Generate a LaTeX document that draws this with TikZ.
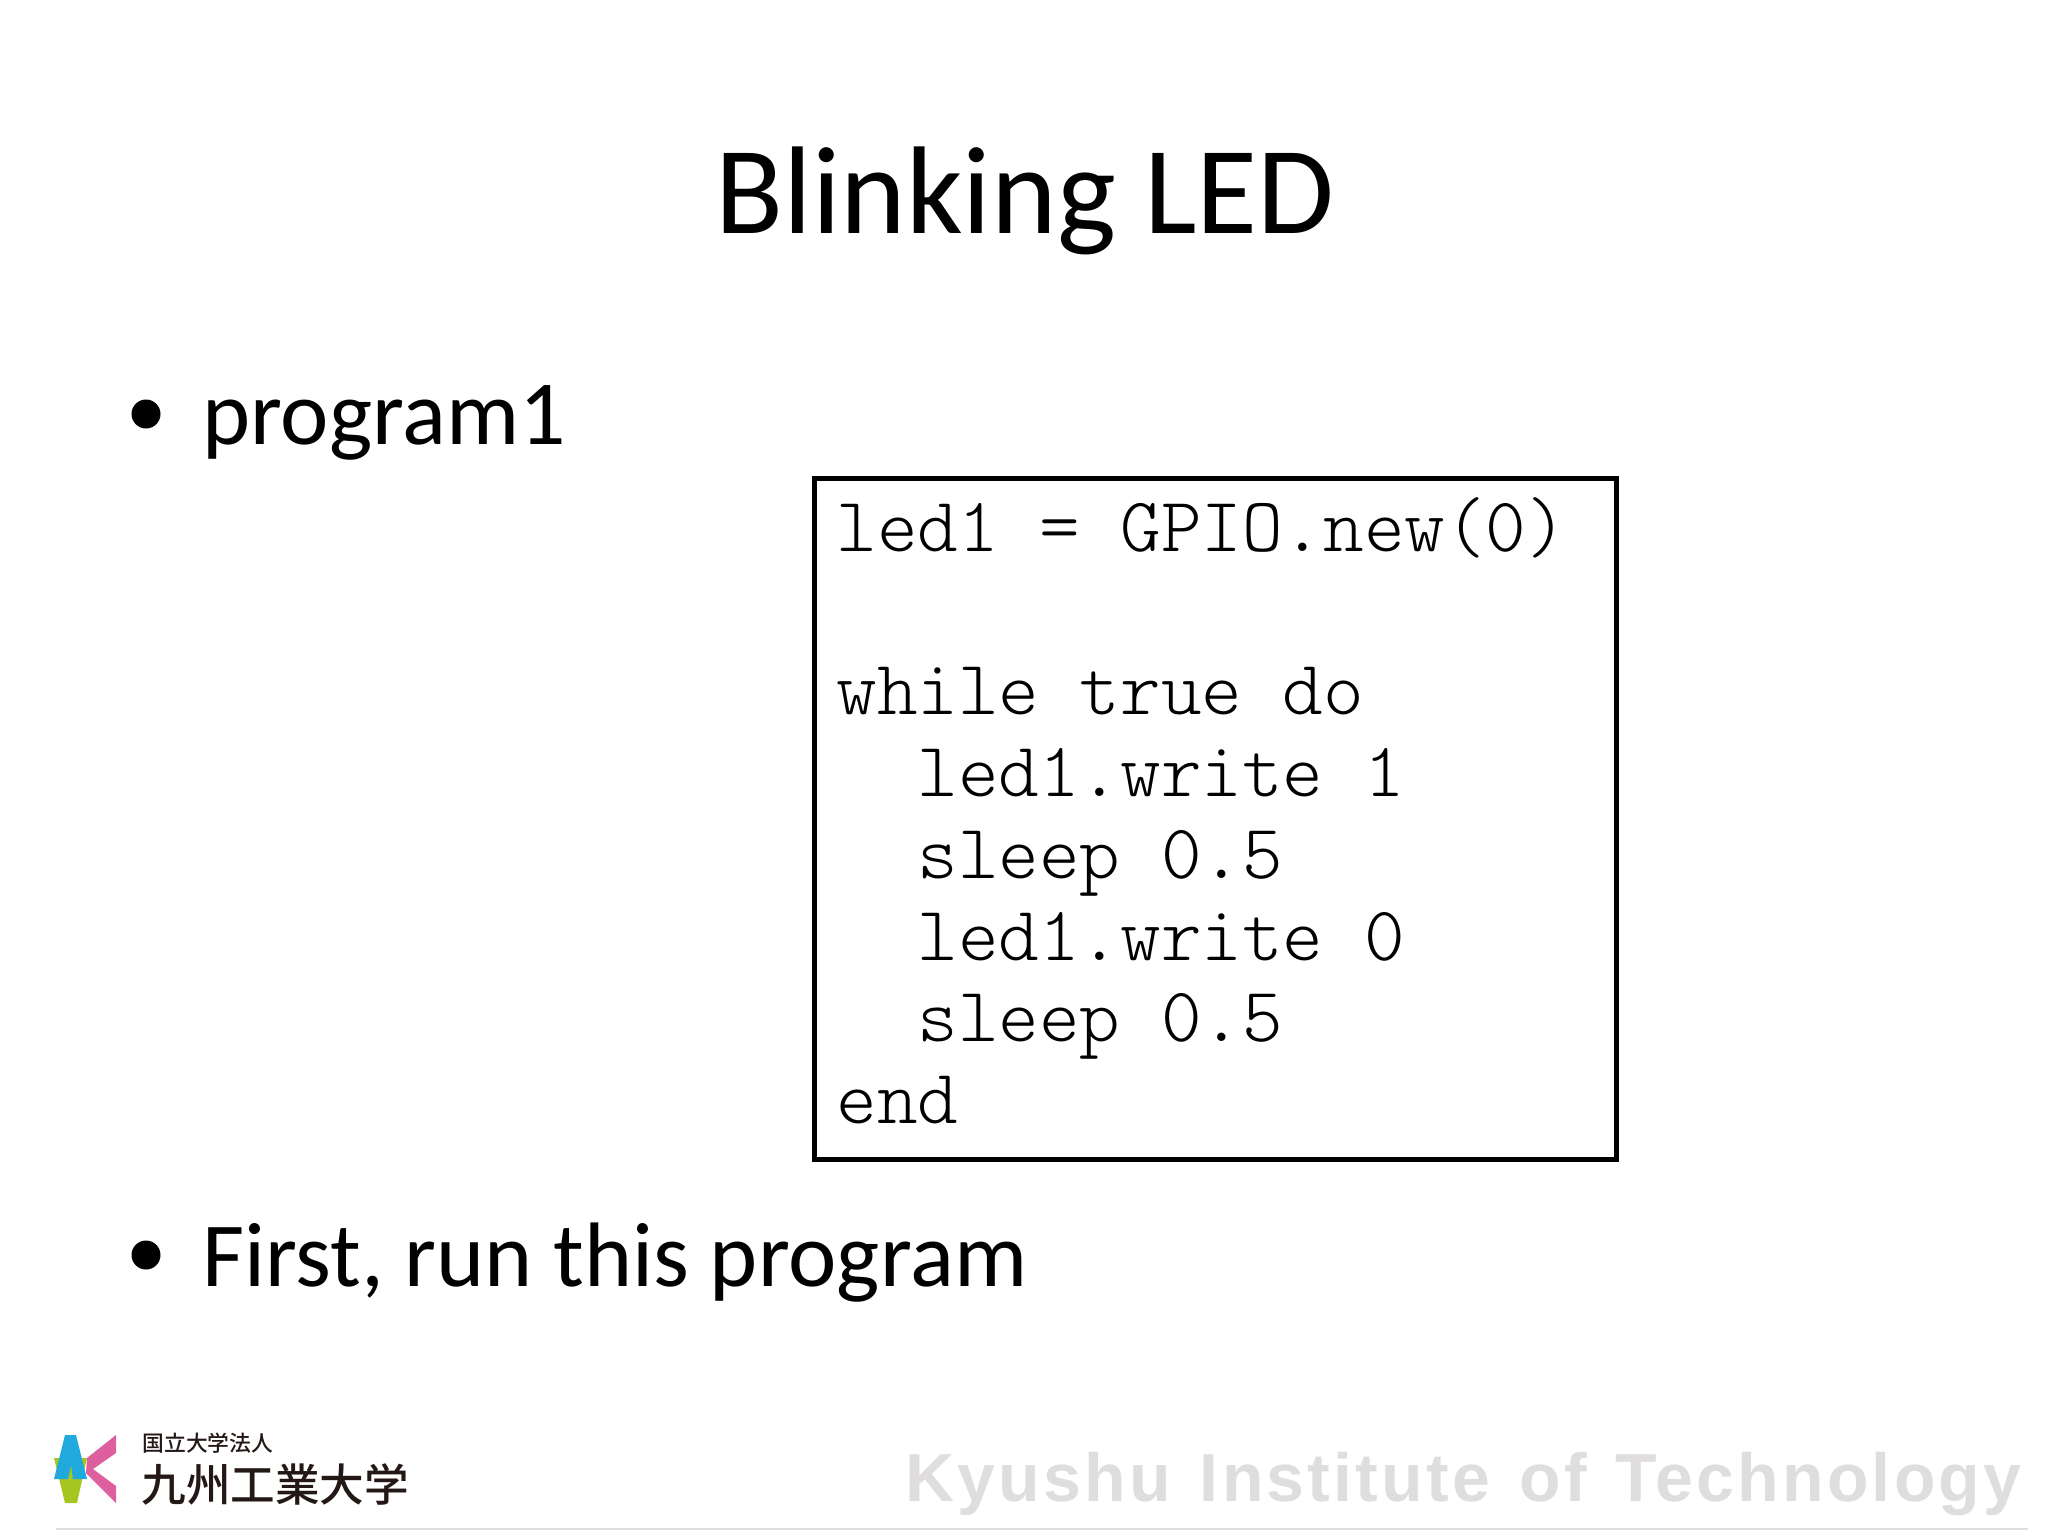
\documentclass[tikz,border=0pt]{standalone}
\usepackage{fontspec}
\usepackage{xcolor}
\setmainfont{Carlito}
\setmonofont{Latin Modern Mono Light}
\newfontfamily\jpfont{Noto Sans CJK JP Medium}
\newfontfamily\footfont[LetterSpace=4.8,WordSpace=1.3]{Liberation Sans Bold}
\usepackage{tikz}
\usetikzlibrary{positioning}
\definecolor{logoblue}{HTML}{1FA9DC}
\definecolor{logogreen}{HTML}{A5C520}
\definecolor{logopink}{HTML}{DD5F9E}
\definecolor{logotext}{HTML}{231815}
\definecolor{footgray}{HTML}{DFDDDE}
\tikzset{
	heading/.style={anchor=base,inner sep=0pt,font=\fontsize{62.4}{70}\selectfont},
	bullettext/.style={anchor=base west,inner sep=0pt,font=\fontsize{45.8}{50}\selectfont},
	bulletdot/.style={circle,fill=black,inner sep=0pt,minimum size=14.5pt},
	codebox/.style={draw,line width=2.5pt,minimum width=401pt,minimum height=340.5pt,inner sep=0pt},
}
\begin{document}
\begin{tikzpicture}[x=0.5pt,y=-0.5pt]
		\useasboundingbox (0,0) rectangle (2048,1536);
		\node [heading] (title) at (1025,233) {Blinking LED};
		\node [bulletdot] (dota) at (146,414) {};
		\node [bullettext] (prog) at (202,444) {program1};
		\node [codebox] (code) at (1215.5,818.5) {};
		\node [anchor=base west,inner sep=0pt] (lines) at (836,551) {\begin{minipage}[t]{380pt}
					\fontsize{38.66}{40.9}\selectfont\ttfamily\obeyspaces
					led1 = GPIO.new(0)\\
					\mbox{}\\
					while true do\\
					\mbox{}\ \ led1.write 1\\
					\mbox{}\ \ sleep 0.5\\
					\mbox{}\ \ led1.write 0\\
					\mbox{}\ \ sleep 0.5\\
					end
				\end{minipage}};
		\node [bulletdot] (dotb) at (146,1255) {};
		\node [bullettext] (first) at (202,1286) {First, run this program};
		% logo
		\fill[logogreen] (54,1458) -- (87,1458) -- (77,1503) -- (65,1503) -- cycle;
		\fill[logoblue] (65,1435) -- (76,1435) -- (87,1479) -- (73,1479) -- (71,1465) -- (68,1479) -- (54,1479) -- cycle;
		\fill[logopink] (116,1435) -- (116,1453) -- (93,1469) -- (116,1486) -- (116,1503) -- (86,1473) -- (87,1458) -- cycle;
		\node [anchor=base west,inner sep=0pt,text=logotext,font=\jpfont\fontsize{10.9}{12}\selectfont] (univsmall) at (142,1451) {国立大学法人};
		\node [anchor=base west,inner sep=0pt,text=logotext,font=\jpfont\fontsize{22.3}{24}\selectfont] (univ) at (141,1501) {九州工業大学};
		\node [anchor=base west,inner sep=0pt,text=footgray,font=\footfont\fontsize{34}{36}\selectfont] (foot) at (905,1501) {Kyushu Institute of Technology};
		\coordinate (rulea) at (56,1529);
		\coordinate (ruleb) at (2028,1529);
		\draw[footgray,line width=1pt] (rulea) -- (ruleb);
	\end{tikzpicture}
\end{document}
